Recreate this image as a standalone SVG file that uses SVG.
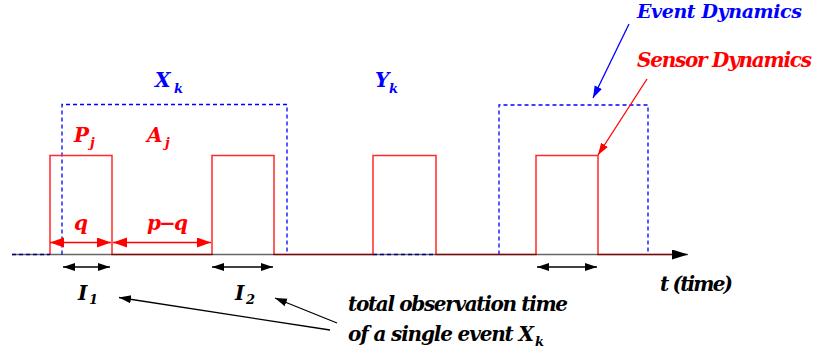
<svg xmlns="http://www.w3.org/2000/svg" width="818" height="355" viewBox="0 0 818 355">
<style>
text{font-family:"DejaVu Serif","Liberation Serif",serif;font-weight:bold;font-style:italic}
.big{font-size:20px}
.sub{font-size:13px}
.blue{fill:#0000ff}
.red{fill:#ff0000}
.blk{fill:#000}
.ev{fill:none;stroke:#0000ff;stroke-width:1.3;stroke-dasharray:4 3}
.sig{fill:none;stroke:#ff2a2a;stroke-width:1.5}
.ax{stroke:#000;stroke-opacity:0.6;stroke-width:1.5;fill:none}
.rarr{stroke:#ff0000;stroke-width:1.3;fill:none}
.karr{stroke:#000;stroke-width:1.3;fill:none}
</style>
<defs>
<marker id="rh" markerUnits="userSpaceOnUse" markerWidth="16" markerHeight="12" refX="14" refY="5" orient="auto-start-reverse"><path d="M0,0 L14,5 L0,10 Z" fill="#ff0000"/></marker>
<marker id="kh" markerUnits="userSpaceOnUse" markerWidth="14" markerHeight="10" refX="12" refY="4" orient="auto-start-reverse"><path d="M0,0 L12,4 L0,8 Z" fill="#000"/></marker>
<marker id="bh" markerUnits="userSpaceOnUse" markerWidth="14" markerHeight="10" refX="12" refY="4" orient="auto"><path d="M0,0 L12,4 L0,8 Z" fill="#0000ff"/></marker>
<marker id="rh2" markerUnits="userSpaceOnUse" markerWidth="14" markerHeight="10" refX="12" refY="4" orient="auto"><path d="M0,0 L12,4 L0,8 Z" fill="#ff0000"/></marker>
<marker id="ax" markerUnits="userSpaceOnUse" markerWidth="18" markerHeight="12" refX="16" refY="5" orient="auto"><path d="M0,0 L16,5 L0,10 Z" fill="#000"/></marker>
</defs>

<g id="event-signal">
<path class="ev" d="M12,254.5 H50"/>
<path class="ev" d="M62,254.5 V104.5 H287 V254.5"/>
<path class="ev" d="M373,254.5 H436"/>
<path class="ev" d="M499,254.5 V105 H648 V254.5"/>
</g>

<g id="sensor-signal">
<path class="sig" d="M50,254.5 V155.5 H112 V254.5 H212 V155.5 H274 V254.5 H373 V155.5 H436 V254.5 H536 V155.5 H598 V254.5 H686"/>
</g>

<g id="time-axis">
<line class="ax" x1="12" y1="254.5" x2="688" y2="254.5" marker-end="url(#ax)"/>
</g>

<g id="connectors">
<line class="rarr" x1="50" y1="242.5" x2="111" y2="242.5" marker-start="url(#rh)" marker-end="url(#rh)"/>
<line class="rarr" x1="113" y1="242.5" x2="211" y2="242.5" marker-start="url(#rh)" marker-end="url(#rh)"/>
<line class="karr" x1="63" y1="267" x2="110" y2="267" marker-start="url(#kh)" marker-end="url(#kh)"/>
<line class="karr" x1="212" y1="267" x2="273" y2="267" marker-start="url(#kh)" marker-end="url(#kh)"/>
<line class="karr" x1="537" y1="267" x2="597" y2="267" marker-start="url(#kh)" marker-end="url(#kh)"/>
<line class="karr" x1="330" y1="330" x2="119" y2="297.5" marker-end="url(#kh)"/>
<line class="karr" x1="337" y1="323" x2="275" y2="298" marker-end="url(#kh)"/>
<line x1="629" y1="24" x2="593" y2="98" stroke="#0000ff" stroke-width="1.3" marker-end="url(#bh)"/>
<line x1="647" y1="79" x2="598" y2="155" stroke="#ff0000" stroke-width="1.3" marker-end="url(#rh2)"/>
</g>

<g id="label-Xk"><text class="big blue" x="155" y="87">X</text><text class="sub blue" x="174" y="93">k</text></g>
<g id="label-Yk"><text class="big blue" x="375" y="87">Y</text><text class="sub blue" x="389" y="93">k</text></g>
<g id="label-Pj"><text class="big red" x="74" y="142">P</text><text class="sub red" x="90" y="147">j</text></g>
<g id="label-Aj"><text class="big red" x="147" y="142">A</text><text class="sub red" x="165" y="147">j</text></g>
<g id="label-q"><text class="big red" x="74" y="230">q</text></g>
<g id="label-pq"><text class="big red" x="147" y="230" textLength="41">p−q</text></g>
<g id="label-I1"><text class="big blk" x="78" y="300">I</text><text class="sub blk" x="89" y="304">1</text></g>
<g id="label-I2"><text class="big blk" x="235" y="300">I</text><text class="sub blk" x="246" y="304">2</text></g>
<g id="label-time"><text class="big blk" x="660" y="291" textLength="73">t (time)</text></g>
<g id="label-total">
<text class="big blk" x="348" y="311" textLength="220">total observation time</text>
<text class="big blk" x="348" y="341" textLength="186">of a single event X</text><text class="sub blk" x="535" y="346">k</text>
</g>
<g id="label-event"><text class="blue" x="637" y="18" font-size="19" textLength="165">Event Dynamics</text></g>
<g id="label-sensor"><text class="big red" x="637" y="67" textLength="175">Sensor Dynamics</text></g>
</svg>
